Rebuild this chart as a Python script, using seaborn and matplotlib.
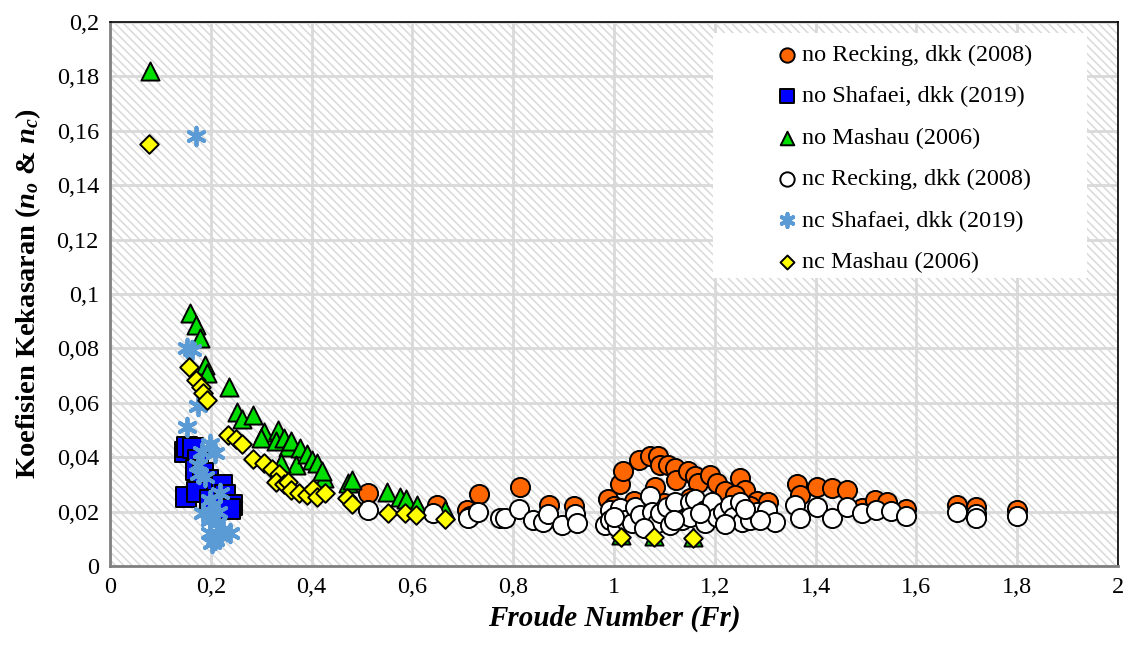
import matplotlib
matplotlib.use("Agg")
import matplotlib.pyplot as plt
import seaborn as sns
from matplotlib.patches import Rectangle
from matplotlib.ticker import FuncFormatter

# ---------------- data ----------------
no_recking_x = [0.512, 0.649, 0.708, 0.732, 0.813, 0.871, 0.921, 0.988, 1.012, 1.018,
                1.050, 1.071, 1.087, 1.091, 1.107, 1.121, 1.123, 1.147, 1.161, 1.167,
                1.190, 1.204, 1.220, 1.250, 1.260, 1.283, 1.306, 1.081, 1.363, 1.369,
                1.403, 1.433, 1.462, 1.492, 1.518, 1.542, 1.580, 1.680, 1.718, 1.800,
                1.000, 1.040, 1.100, 1.150, 1.200, 1.240, 1.270]
no_recking_y = [0.0270, 0.0225, 0.0205, 0.0265, 0.0290, 0.0225, 0.0220, 0.0245, 0.0300, 0.0350,
                0.0390, 0.0405, 0.0405, 0.0370, 0.0370, 0.0360, 0.0316, 0.0350, 0.0330, 0.0305,
                0.0335, 0.0305, 0.0275, 0.0325, 0.0280, 0.0240, 0.0235, 0.0290, 0.0300, 0.0262,
                0.0290, 0.0285, 0.0280, 0.0213, 0.0243, 0.0235, 0.0210, 0.0225, 0.0218, 0.0205,
                0.0220, 0.0240, 0.0230, 0.0250, 0.0220, 0.0260, 0.0220]

no_shafaei_x = [0.149, 0.153, 0.165, 0.175, 0.171, 0.185, 0.194, 0.208, 0.222, 0.151,
                0.172, 0.198, 0.228, 0.242, 0.238]
no_shafaei_y = [0.0420, 0.0438, 0.0434, 0.0390, 0.0353, 0.0342, 0.0316, 0.0290, 0.0298, 0.0254,
                0.0272, 0.0243, 0.0261, 0.0225, 0.0210]

no_mashau_x = [0.079, 0.159, 0.171, 0.179, 0.188, 0.192, 0.236, 0.252, 0.262, 0.284,
               0.306, 0.300, 0.333, 0.330, 0.345, 0.353, 0.360, 0.377, 0.370, 0.340,
               0.390, 0.400, 0.410, 0.425, 0.420, 0.472, 0.480, 0.550, 0.575, 0.587,
               0.609, 0.665, 1.014, 1.079, 1.157]
no_mashau_y = [0.1820, 0.0930, 0.0886, 0.0838, 0.0739, 0.0710, 0.0658, 0.0566, 0.0540, 0.0555,
               0.0493, 0.0470, 0.0500, 0.0460, 0.0470, 0.0438, 0.0460, 0.0434, 0.0370, 0.0380,
               0.0410, 0.0390, 0.0379, 0.0324, 0.0350, 0.0305, 0.0316, 0.0272, 0.0254, 0.0246,
               0.0224, 0.0206, 0.0115, 0.0112, 0.0108]

nc_recking_x = [0.512, 0.641, 0.714, 0.710, 0.730, 0.774, 0.784, 0.812, 0.839, 0.859,
                0.869, 0.897, 0.923, 0.927, 0.982, 0.992, 0.992, 1.006, 1.012, 1.022,
                1.036, 1.042, 1.052, 1.071, 1.075, 1.085, 1.091, 1.105, 1.111, 1.121,
                1.135, 1.151, 1.151, 1.161, 1.181, 1.181, 1.194, 1.204, 1.216, 1.230,
                1.236, 1.250, 1.254, 1.270, 1.283, 1.304, 1.319, 1.359, 1.369, 1.403,
                1.433, 1.462, 1.492, 1.520, 1.550, 1.580, 1.680, 1.718, 1.718, 1.800,
                1.000, 1.060, 1.120, 1.170, 1.220, 1.290, 1.260]
nc_recking_y = [0.0205, 0.0195, 0.0185, 0.0176, 0.0199, 0.0176, 0.0176, 0.0208, 0.0169, 0.0162,
                0.0192, 0.0151, 0.0192, 0.0158, 0.0151, 0.0206, 0.0169, 0.0143, 0.0213, 0.0169,
                0.0158, 0.0217, 0.0188, 0.0258, 0.0199, 0.0158, 0.0195, 0.0217, 0.0151, 0.0235,
                0.0169, 0.0235, 0.0180, 0.0248, 0.0206, 0.0158, 0.0235, 0.0180, 0.0199, 0.0224,
                0.0180, 0.0235, 0.0162, 0.0169, 0.0199, 0.0206, 0.0162, 0.0224, 0.0176, 0.0217,
                0.0176, 0.0217, 0.0195, 0.0206, 0.0203, 0.0182, 0.0199, 0.0192, 0.0178, 0.0182,
                0.0180, 0.0140, 0.0170, 0.0195, 0.0155, 0.0170, 0.0210]

nc_shafaei_x = [0.171, 0.153, 0.162, 0.175, 0.153, 0.198, 0.182, 0.208, 0.175, 0.177,
                0.188, 0.218, 0.198, 0.204, 0.185, 0.198, 0.212, 0.224, 0.238, 0.198,
                0.208, 0.202, 0.215, 0.220]
nc_shafaei_y = [0.1580, 0.0800, 0.0794, 0.0590, 0.0510, 0.0450, 0.0420, 0.0415, 0.0370, 0.0340,
                0.0327, 0.0268, 0.0243, 0.0224, 0.0195, 0.0169, 0.0158, 0.0132, 0.0121, 0.0121,
                0.0096, 0.0085, 0.0200, 0.0110]

nc_mashau_x = [0.077, 0.157, 0.171, 0.180, 0.185, 0.192, 0.234, 0.250, 0.262, 0.284,
               0.306, 0.321, 0.335, 0.330, 0.345, 0.353, 0.360, 0.375, 0.390, 0.403,
               0.410, 0.427, 0.470, 0.480, 0.552, 0.585, 0.607, 0.665, 1.014, 1.079,
               1.157]
nc_mashau_y = [0.1550, 0.0732, 0.0684, 0.0658, 0.0636, 0.0610, 0.0482, 0.0467, 0.0450, 0.0393,
               0.0379, 0.0357, 0.0338, 0.0310, 0.0300, 0.0310, 0.0280, 0.0268, 0.0260, 0.0283,
               0.0254, 0.0268, 0.0250, 0.0228, 0.0195, 0.0195, 0.0188, 0.0172, 0.0107, 0.0107,
               0.0103]

x_ticks = [0, 0.2, 0.4, 0.6, 0.8, 1.0, 1.2, 1.4, 1.6, 1.8, 2.0]
y_ticks = [0, 0.02, 0.04, 0.06, 0.08, 0.1, 0.12, 0.14, 0.16, 0.18, 0.2]

# ---------------- style ----------------
plt.rcParams['font.family'] = ['Liberation Serif', 'DejaVu Serif']
plt.rcParams['mathtext.fontset'] = 'custom'
plt.rcParams['mathtext.rm'] = 'Liberation Serif:bold'
plt.rcParams['mathtext.it'] = 'Liberation Serif:italic:bold'
plt.rcParams['mathtext.bf'] = 'Liberation Serif:bold'
plt.rcParams['hatch.linewidth'] = 1.1
plt.rcParams['hatch.color'] = '#d9d9d9'

fig = plt.figure(figsize=(11.29, 6.48), dpi=100)
ax = fig.add_axes([110 / 1129, 82 / 648, 1008 / 1129, 544 / 648])
ax.set_facecolor('white')
ax.add_patch(Rectangle((0, 0), 1, 1, transform=ax.transAxes, facecolor='white',
                       edgecolor='#d9d9d9', hatch='\\\\\\\\', linewidth=0, zorder=0))

ax.set_axisbelow(True)
ax.grid(True, color='#d9d9d9', linewidth=2, zorder=0.5)

series = [
    (no_recking_x, no_recking_y, 'o', '#ff6600', 'no Recking, dkk (2008)', 190),
    (no_shafaei_x, no_shafaei_y, 's', '#0000ff', 'no Shafaei, dkk (2019)', 190),
    (no_mashau_x, no_mashau_y, '^', '#00dd00', 'no Mashau (2006)', 170),
    (nc_recking_x, nc_recking_y, 'o', '#ffffff', 'nc Recking, dkk (2008)', 190),
]
for xs, ys, m, c, lab, s in series:
    sns.scatterplot(x=xs, y=ys, marker=m, color=c, edgecolor='black', linewidth=1.4,
                    s=s, label=lab, ax=ax, zorder=3)

sns.scatterplot(x=nc_shafaei_x, y=nc_shafaei_y, marker=(6, 2, 0), color='#5b9bd5',
                edgecolor='#5b9bd5', linewidth=2.8, s=160, label='nc Shafaei, dkk (2019)',
                ax=ax, zorder=3)
sns.scatterplot(x=nc_mashau_x, y=nc_mashau_y, marker='D', color='#ffff00', edgecolor='black',
                linewidth=1.4, s=90, label='nc Mashau (2006)', ax=ax, zorder=3)

ax.set_xlim(0, 2)
ax.set_ylim(0, 0.2)
ax.set_xticks(x_ticks)
ax.set_yticks(y_ticks)


def comma(v, pos):
    s = f"{v:.2f}".rstrip('0').rstrip('.')
    return s.replace('.', ',')


ax.xaxis.set_major_formatter(FuncFormatter(comma))
ax.yaxis.set_major_formatter(FuncFormatter(comma))
ax.tick_params(axis='both', labelsize=17.5, length=0, pad=8, colors='black')

for side in ['left', 'bottom']:
    ax.spines[side].set_color('#808080')
    ax.spines[side].set_linewidth(2)
for side in ['top', 'right']:
    ax.spines[side].set_color('black')
    ax.spines[side].set_linewidth(1.2)

ax.set_xlabel('Froude Number (Fr)', fontsize=21, fontweight='bold', fontstyle='italic', labelpad=5)
ax.set_ylabel(r'Koefisien Kekasaran ($n_o$ & $n_c$)', fontsize=20.5, fontweight='bold', labelpad=10)

# white legend box (as in the reference)
bx0 = (713 - 110) / 1008
bx1 = (1087 - 110) / 1008
by0 = (566 - 278) / 544
by1 = (566 - 33) / 544
ax.add_patch(Rectangle((bx0, by0), bx1 - bx0, by1 - by0, transform=ax.transAxes,
                       facecolor='white', edgecolor='none', zorder=4))

leg = ax.legend(loc='upper left', bbox_to_anchor=((775 - 110) / 1008, (566 - 44) / 544),
                frameon=False, fontsize=17.5, markerscale=0.75, handletextpad=0.1,
                labelspacing=0.8, borderpad=0, borderaxespad=0, handlelength=1.0)
leg.set_zorder(5)

fig.savefig('out.png', dpi=100)
